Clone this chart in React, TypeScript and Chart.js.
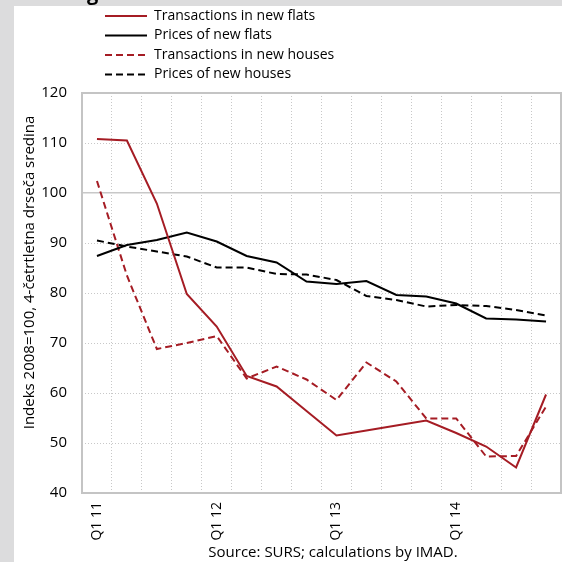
import { useEffect, useRef } from "react";
import { Chart, registerables } from "chart.js";

Chart.register(...registerables);

const categories = [
  "Q1 11", "Q2 11", "Q3 11", "Q4 11",
  "Q1 12", "Q2 12", "Q3 12", "Q4 12",
  "Q1 13", "Q2 13", "Q3 13", "Q4 13",
  "Q1 14", "Q2 14", "Q3 14", "Q4 14",
];
const tickLabels = categories.map((c) => (c.startsWith("Q1") ? c : ""));

const transactionsNewFlats = [110.8, 110.5, 97.9, 79.8, 73.3, 63.4, 61.3, 56.4, 51.5, 52.5, 53.5, 54.5, 52.0, 49.3, 45.1, 59.7];
const pricesNewFlats = [87.4, 89.6, 90.6, 92.1, 90.3, 87.4, 86.1, 82.3, 81.8, 82.4, 79.6, 79.3, 77.9, 74.9, 74.7, 74.3];
const transactionsNewHouses = [102.4, 83.5, 68.8, 70.0, 71.4, 62.9, 65.3, 62.7, 58.6, 66.1, 62.3, 54.9, 54.9, 47.3, 47.4, 57.3];
const pricesNewHouses = [90.5, 89.3, 88.3, 87.3, 85.1, 85.1, 83.8, 83.7, 82.6, 79.4, 78.6, 77.3, 77.6, 77.4, 76.6, 75.5];

const seriesNames = [
  "Transactions in new flats",
  "Prices of new flats",
  "Transactions in new houses",
  "Prices of new houses",
];
const yTitle = "Indeks 2008=100, 4-četrtletna drseča sredina";
const sourceText = "Source: SURS; calculations by IMAD.";

const RED = "#a51c24";
const BLACK = "#000000";
const FONT = "'Open Sans'";

const decorPlugin = {
  id: "decor",
  beforeDraw(chart: any) {
    const { ctx } = chart;
    ctx.save();
    ctx.fillStyle = "#dcdcdd";
    ctx.fillRect(0, 0, 562, 562);
    ctx.fillStyle = "#ffffff";
    ctx.fillRect(14, 6, 548, 556);
    ctx.fillStyle = "#000";
    ctx.font = `bold 20px ${FONT}`;
    ctx.textBaseline = "alphabetic";
    ctx.fillText("g", 87, 0);
    ctx.restore();
  },
  beforeDatasetsDraw(chart: any) {
    const { ctx, chartArea } = chart;
    ctx.save();
    ctx.strokeStyle = "#c4c4c4";
    ctx.lineWidth = 2;
    ctx.strokeRect(chartArea.left, chartArea.top, chartArea.right - chartArea.left, chartArea.bottom - chartArea.top);
    ctx.restore();
  },
  afterDraw(chart: any) {
    const { ctx } = chart;
    ctx.save();
    const rows = [16, 35.5, 55, 74.5];
    chart.data.datasets.forEach((ds: any, i: number) => {
      const y = rows[i];
      ctx.strokeStyle = ds.borderColor;
      ctx.lineWidth = 2;
      ctx.setLineDash(ds.borderDash || []);
      ctx.beginPath();
      ctx.moveTo(105, y);
      ctx.lineTo(147, y);
      ctx.stroke();
      ctx.setLineDash([]);
      ctx.fillStyle = "#000";
      ctx.font = `14px ${FONT}`;
      ctx.textBaseline = "middle";
      ctx.textAlign = "left";
      ctx.fillText(ds.label, 154, y);
    });
    ctx.save();
    ctx.translate(30, 272.5);
    ctx.rotate(-Math.PI / 2);
    ctx.textAlign = "center";
    ctx.textBaseline = "middle";
    ctx.font = `15px ${FONT}`;
    ctx.fillStyle = "#000";
    ctx.fillText(yTitle, 0, 0);
    ctx.restore();
    ctx.textAlign = "center";
    ctx.textBaseline = "middle";
    ctx.font = `15px ${FONT}`;
    ctx.fillStyle = "#000";
    ctx.fillText(sourceText, 333, 553);
    ctx.restore();
  },
};

export default function App() {
  const ref = useRef<HTMLCanvasElement>(null);
  useEffect(() => {
    if (!ref.current) return;
    const chart = new Chart(ref.current, {
      type: "line",
      data: {
        labels: categories,
        datasets: [
          { label: seriesNames[0], data: transactionsNewFlats, borderColor: RED, borderWidth: 2, pointRadius: 0, tension: 0 },
          { label: seriesNames[1], data: pricesNewFlats, borderColor: BLACK, borderWidth: 2, pointRadius: 0, tension: 0 },
          { label: seriesNames[2], data: transactionsNewHouses, borderColor: RED, borderWidth: 2, borderDash: [7, 4], pointRadius: 0, tension: 0 },
          { label: seriesNames[3], data: pricesNewHouses, borderColor: BLACK, borderWidth: 2, borderDash: [7, 4], pointRadius: 0, tension: 0 },
        ],
      },
      options: {
        responsive: false,
        animation: false,
        devicePixelRatio: 1,
        layout: { padding: { top: 93, right: 1, left: 0, bottom: 0 } },
        plugins: { legend: { display: false }, tooltip: { enabled: false }, title: { display: false } },
        scales: {
          x: {
            offset: true,
            grid: { offset: true, color: "#c8c8c8", lineWidth: 1, drawTicks: false },
            border: { display: false, dash: [1, 2] },
            ticks: {
              autoSkip: false,
              maxRotation: 90,
              minRotation: 90,
              padding: 9,
              color: "#000",
              font: { family: FONT, size: 14 },
              callback: (_v: any, i: number) => tickLabels[i],
            },
            afterFit: (scale: any) => {
              scale.height = 69;
              scale.paddingLeft = 0;
              scale.paddingRight = 0;
            },
          },
          y: {
            min: 40,
            max: 120,
            grid: {
              color: "#c8c8c8",
              lineWidth: (c: any) => (c.tick && c.tick.value === 100 ? 1.6 : 1),
              drawTicks: false,
            },
            border: { display: false, dash: (c: any) => (c.tick && c.tick.value === 100 ? [] : [1, 2]) },
            ticks: {
              stepSize: 10,
              padding: 15,
              color: "#000",
              font: { family: FONT, size: 15 },
            },
            afterFit: (scale: any) => {
              scale.width = 82;
              scale.paddingTop = 0;
              scale.paddingBottom = 0;
            },
          },
        },
      },
      plugins: [decorPlugin],
    });
    return () => chart.destroy();
  }, []);
  return (
    <div style={{ position: "absolute", left: 0, top: 0, width: 562, height: 562 }}>
      <canvas ref={ref} width={562} height={562} style={{ width: 562, height: 562, display: "block" }} />
    </div>
  );
}
